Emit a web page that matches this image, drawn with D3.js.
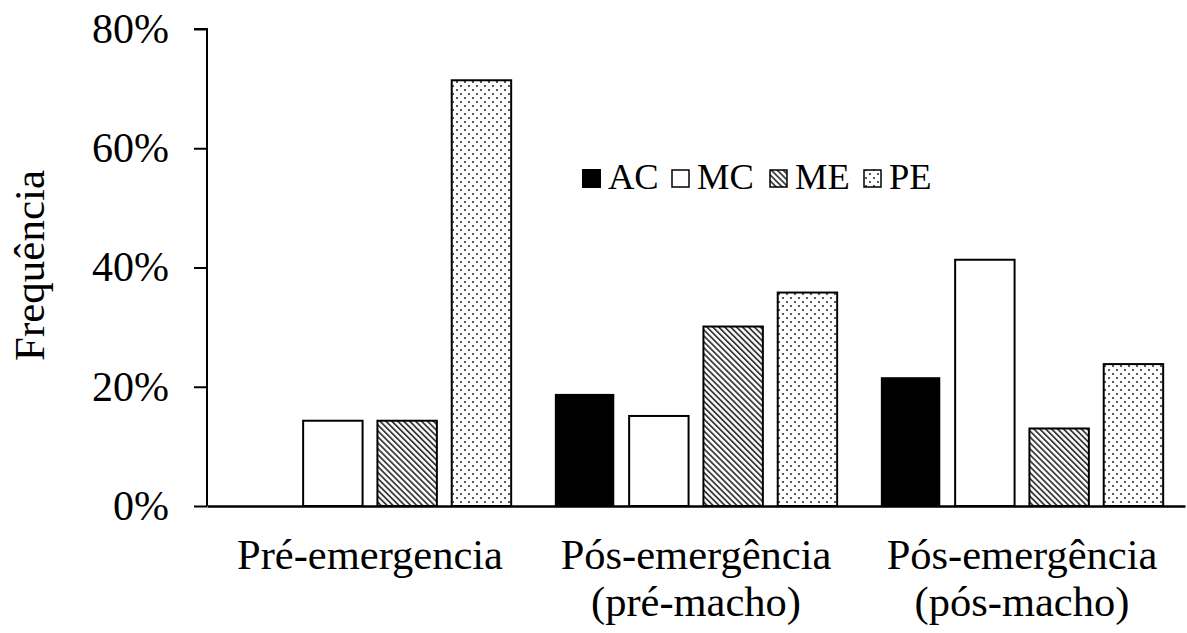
<!DOCTYPE html>
<html>
<head>
<meta charset="utf-8">
<script src="https://cdn.jsdelivr.net/npm/d3@7"></script>
<style>
  html, body { margin: 0; padding: 0; background: #fff; }
  svg { display: block; }
  text { font-family: "Liberation Serif", "Times New Roman", serif; fill: #000; }
</style>
</head>
<body>
<svg id="chart" width="1187" height="633"></svg>
<script>
// ---- data ----
const categories = [["Pré-emergencia"], ["Pós-emergência", "(pré-macho)"], ["Pós-emergência", "(pós-macho)"]];
const seriesNames = ["AC", "MC", "ME", "PE"];
const AC = [0.0, 0.188, 0.216];
const MC = [0.143, 0.151, 0.413];
const ME = [0.143, 0.301, 0.130];
const PE = [0.714, 0.358, 0.238];
const yTicks = [0, 0.2, 0.4, 0.6, 0.8];
const yLabel = "Frequência";

const seriesValues = [AC, MC, ME, PE];

const svg = d3.select("#chart");
const mLeft = 207, mRight = 1185, mTop = 29, mBottom = 506;

// patterns
const defs = svg.append("defs");
const hatch = defs.append("pattern").attr("id", "hatchME")
  .attr("patternUnits", "userSpaceOnUse").attr("width", 4.2).attr("height", 4.2)
  .attr("patternTransform", "rotate(-45)");
hatch.append("rect").attr("width", 4.2).attr("height", 4.2).attr("fill", "#fff");
hatch.append("rect").attr("x", 0).attr("width", 1.8).attr("height", 4.2).attr("fill", "#3a3a3a");

const dots = defs.append("pattern").attr("id", "dotsPE")
  .attr("patternUnits", "userSpaceOnUse").attr("width", 8).attr("height", 8);
dots.append("rect").attr("width", 8).attr("height", 8).attr("fill", "#fff");
dots.append("circle").attr("cx", 2).attr("cy", 2).attr("r", 1.1).attr("fill", "#333");
dots.append("circle").attr("cx", 6).attr("cy", 6).attr("r", 1.1).attr("fill", "#333");

const fills = { AC: "#000", MC: "#fff", ME: "url(#hatchME)", PE: "url(#dotsPE)" };
const strokes = { AC: "none", MC: "#000", ME: "#000", PE: "#000" };

const x0 = d3.scaleBand().domain(d3.range(categories.length)).range([mLeft, mRight]).padding(0);
const x1 = d3.scaleBand().domain(seriesNames).range([0, x0.bandwidth()])
  .paddingInner(0.2).paddingOuter(0.294);
const y = d3.scaleLinear().domain([0, 0.8]).range([mBottom, mTop]);

// bars
const groups = svg.append("g").selectAll("g").data(categories).join("g")
  .attr("transform", (d, i) => `translate(${x0(i)},0)`);
groups.each(function (cat, gi) {
  d3.select(this).selectAll("rect")
    .data(seriesNames.map((s, si) => ({ s, v: seriesValues[si][gi] })).filter(d => d.v > 0))
    .join("rect")
    .attr("x", d => x1(d.s))
    .attr("y", d => y(d.v))
    .attr("width", x1.bandwidth())
    .attr("height", d => y(0) - y(d.v))
    .attr("fill", d => fills[d.s])
    .attr("stroke", d => strokes[d.s])
    .attr("stroke-width", 2);
});

// y axis
const yAxis = d3.axisLeft(y).tickValues(yTicks).tickFormat(d3.format(".0%")).tickSize(13).tickPadding(25);
const gy = svg.append("g").attr("transform", `translate(${mLeft},0)`).call(yAxis);
gy.select(".domain").attr("stroke", "#000").attr("stroke-width", 2).attr("d", `M-13,${mTop}H0V${mBottom}`);
gy.selectAll(".tick line").attr("stroke", "#000").attr("stroke-width", 2);
gy.selectAll(".tick text").style("font-family", '"Liberation Serif", serif').attr("font-size", 42).attr("fill", "#000");

// x axis line
const xAxis = d3.axisBottom(x0).tickSize(0).tickFormat("");
const gx = svg.append("g").attr("transform", `translate(0,${mBottom})`).call(xAxis);
gx.select(".domain").attr("stroke", "#000").attr("stroke-width", 2.5);

// x labels
categories.forEach((lines, i) => {
  const cx = x0(i) + x0.bandwidth() / 2;
  const t = svg.append("text").attr("text-anchor", "middle").attr("font-size", 42.5)
    .attr("x", cx).attr("y", 569);
  lines.forEach((ln, li) => {
    t.append("tspan").attr("x", cx).attr("dy", li === 0 ? 0 : 47).text(ln);
  });
});

// y label
svg.append("text").attr("font-size", 43).attr("text-anchor", "middle")
  .attr("transform", `translate(44,${(mTop + mBottom) / 2 - 2}) rotate(-90)`).text(yLabel);

// legend
const legendX = [582, 671, 769, 863];
const lg = svg.append("g");
seriesNames.forEach((s, i) => {
  if (s === "AC") {
    lg.append("rect").attr("x", legendX[i]).attr("y", 169).attr("width", 19).attr("height", 19).attr("fill", fills[s]);
  } else {
    lg.append("rect").attr("x", legendX[i] + 1).attr("y", 170).attr("width", 17).attr("height", 17)
      .attr("fill", fills[s]).attr("stroke", "#000").attr("stroke-width", 1.5);
  }
  lg.append("text").attr("x", legendX[i] + 26).attr("y", 189).attr("font-size", 36.5).text(s);
});
</script>
</body>
</html>
